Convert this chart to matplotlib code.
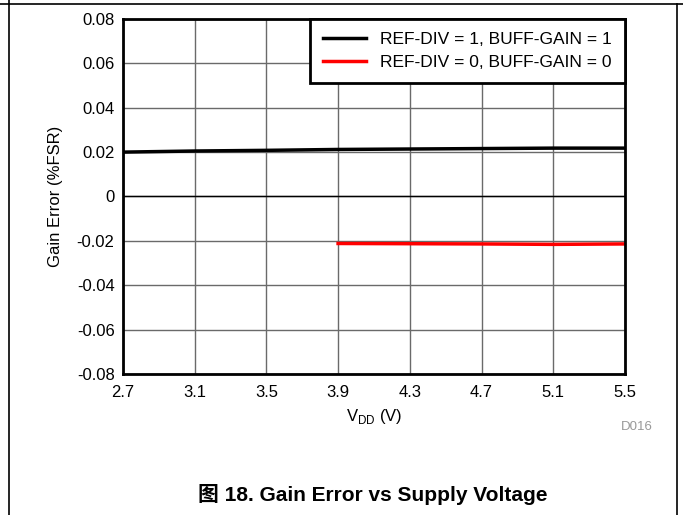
import matplotlib.pyplot as plt
from matplotlib.lines import Line2D

plt.rcParams['font.family'] = ['Liberation Sans', 'Noto Sans CJK SC', 'DejaVu Sans']

vdd_black = [2.7, 3.1, 3.5, 3.9, 4.3, 4.7, 5.1, 5.5]
err_black = [0.0200, 0.0205, 0.0208, 0.0212, 0.0214, 0.0216, 0.0218, 0.0218]
vdd_red = [3.9, 4.3, 4.7, 5.1, 5.5]
err_red = [-0.0212, -0.0213, -0.0214, -0.0216, -0.0214]
xticks = [2.7, 3.1, 3.5, 3.9, 4.3, 4.7, 5.1, 5.5]
yticks = [-0.08, -0.06, -0.04, -0.02, 0, 0.02, 0.04, 0.06, 0.08]
ylabels = ['-0.08', '-0.06', '-0.04', '-0.02', '0', '0.02', '0.04', '0.06', '0.08']

fig = plt.figure(figsize=(6.83, 5.15), dpi=100)
ax = fig.add_axes([0.180, 0.274, 0.735, 0.689])

ax.plot(vdd_black, err_black, color='black', lw=2.5, label='REF-DIV = 1, BUFF-GAIN = 1')
ax.plot(vdd_red, err_red, color='red', lw=2.5, label='REF-DIV = 0, BUFF-GAIN = 0')

ax.set_xlim(2.7, 5.5)
ax.set_ylim(-0.08, 0.08)
ax.set_xticks(xticks)
ax.set_xticklabels([str(x) for x in xticks])
ax.set_yticks(yticks)
ax.set_yticklabels(ylabels)
ax.tick_params(length=0, labelsize=12, pad=8)
ax.tick_params(axis='y', pad=6)
ax.grid(True, color='#6a6a6a', lw=1)
ax.axhline(0, color='black', lw=1)
for s in ax.spines.values():
    s.set_linewidth(2)

ax.set_xlabel('V$_{\\mathregular{DD}}$ (V)', fontsize=12, labelpad=5)
ax.set_ylabel('Gain Error (%FSR)', fontsize=12, labelpad=10)

leg = ax.legend(loc='upper right', fontsize=12.5, frameon=True, fancybox=False,
                borderaxespad=0, handlelength=2.5, borderpad=0.75, labelspacing=0.45,
                handletextpad=0.8)
leg.get_frame().set_edgecolor('black')
leg.get_frame().set_linewidth(2)
leg.get_frame().set_alpha(1)

fig.text(0.955, 0.165, 'D016', color='#999999', fontsize=9.5, ha='right')
fig.text(0.546, 0.039, '图 18. Gain Error vs Supply Voltage', fontsize=15,
         fontweight='bold', ha='center', va='center')

fig.add_artist(Line2D([0, 1], [0.992, 0.992], color='black', lw=1.2, transform=fig.transFigure))
fig.add_artist(Line2D([0.013, 0.013], [0, 1], color='black', lw=1.2, transform=fig.transFigure))
fig.add_artist(Line2D([0.991, 0.991], [0, 0.992], color='black', lw=1.2, transform=fig.transFigure))

fig.savefig('out.png', dpi=100)
